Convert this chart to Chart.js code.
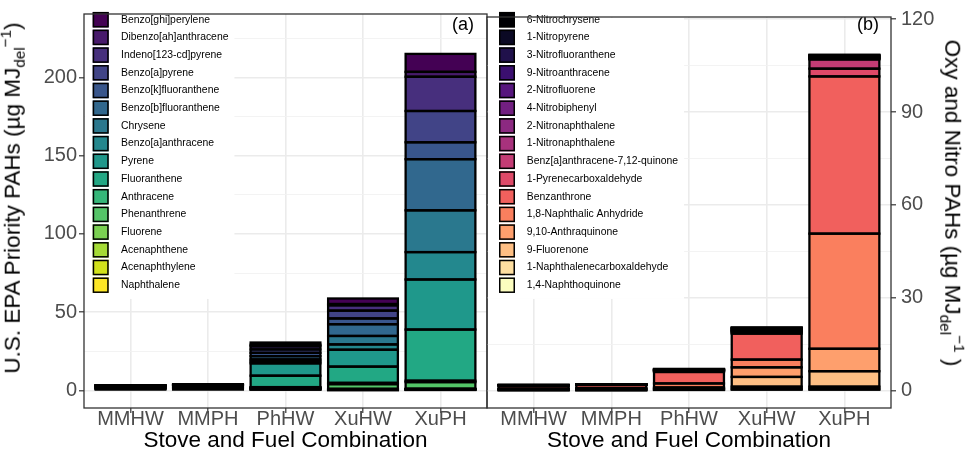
<!DOCTYPE html>
<html>
<head>
<meta charset="utf-8">
<script src="https://cdn.jsdelivr.net/npm/chart.js@4/dist/chart.umd.min.js"></script>
<style>
html,body{margin:0;padding:0;background:#fff;overflow:hidden;}
#wrap{position:relative;width:971px;height:462px;overflow:hidden;background:#fff;font-family:"Liberation Sans",Arial,sans-serif;}
#c1{position:absolute;left:0;top:0;}
#c2{position:absolute;left:485px;top:0;}
.yt{position:absolute;white-space:nowrap;font-size:22.5px;line-height:1;color:#000;}
.sb{font-size:0.68em;position:relative;top:0.3em;}
.sp{font-size:0.68em;position:relative;top:-0.6em;}
</style>
</head>
<body>
<div id="wrap">
  <canvas id="c1" width="489" height="462" style="width:489px;height:462px"></canvas>
  <canvas id="c2" width="486" height="462" style="width:486px;height:462px"></canvas>
  <div class="yt" style="left:13px;top:198px;transform:translate(-50%,-50%) rotate(-90deg);">U.S. EPA Priority PAHs (µg MJ<span class="sb">del</span><span class="sp">−1</span>)</div>
  <div class="yt" style="left:952px;top:203px;transform:translate(-50%,-50%) rotate(90deg);">Oxy and Nitro PAHs (µg MJ<span class="sb">del</span><span class="sp">−1</span> )</div>
</div>
<script>
// ---------------- data ----------------
const categories = ["MMHW", "MMPH", "PhHW", "XuHW", "XuPH"];

// U.S. EPA priority PAHs, listed from the bottom of the stack to the top
const epaSpecies = ["Naphthalene", "Acenaphthylene", "Acenaphthene", "Fluorene", "Phenanthrene", "Anthracene",
  "Fluoranthene", "Pyrene", "Benzo[a]anthracene", "Chrysene", "Benzo[b]fluoranthene", "Benzo[k]fluoranthene",
  "Benzo[a]pyrene", "Indeno[123-cd]pyrene", "Dibenzo[ah]anthracene", "Benzo[ghi]perylene"];
const epaMMHW = [1.0, 0.3, 0.2, 0.3, 0.6, 0.1, 0.2, 0.2, 0.05, 0.05, 0.03, 0.02, 0.03, 0.02, 0.01, 0.02];
const epaMMPH = [1.2, 0.4, 0.2, 0.3, 0.8, 0.1, 0.3, 0.3, 0.05, 0.05, 0.03, 0.02, 0.02, 0.02, 0.01, 0.02];
const epaPhHW = [0.5, 0.4, 0.3, 0.3, 0.4, 0.2, 7.3, 7.9, 1.2, 1.3, 2.1, 2.1, 2.2, 2.0, 1.0, 1.4];
const epaXuHW = [0.2, 0.3, 0.2, 0.3, 3.0, 0.8, 10.4, 10.8, 3.4, 5.4, 7.5, 3.7, 5.0, 3.4, 0.8, 3.55];
const epaXuPH = [0.3, 0.3, 0.2, 0.3, 4.2, 0.9, 32.7, 32.0, 17.5, 26.7, 32.7, 10.8, 20.0, 21.9, 3.1, 11.5];
const epaColors = ["#FDE725", "#D2E21B", "#A5DB36", "#7AD151", "#54C568", "#35B779", "#22A884", "#1F988B",
  "#23888E", "#2A788E", "#31688E", "#39568C", "#414487", "#472F7D", "#481A6C", "#440154"];
const epaTicks = [0, 50, 100, 150, 200];
const epaMinor = [25, 75, 125, 175, 225];

// Oxy and nitro PAHs, listed from the bottom of the stack to the top
const oxySpecies = ["1,4-Naphthoquinone", "1-Naphthalenecarboxaldehyde", "9-Fluorenone", "9,10-Anthraquinone",
  "1,8-Naphthalic Anhydride", "Benzanthrone", "1-Pyrenecarboxaldehyde", "Benz[a]anthracene-7,12-quinone",
  "1-Nitronaphthalene", "2-Nitronaphthalene", "4-Nitrobiphenyl", "2-Nitrofluorene", "9-Nitroanthracene",
  "3-Nitrofluoranthene", "1-Nitropyrene", "6-Nitrochrysene"];
const oxyMMHW = [0.1, 0.1, 0.15, 0.15, 0.15, 0.95, 0.05, 0.05, 0.02, 0.02, 0.01, 0.01, 0.02, 0.01, 0.01, 0.02];
const oxyMMPH = [0.1, 0.1, 0.2, 0.2, 0.2, 1.0, 0.05, 0.05, 0.02, 0.02, 0.01, 0.01, 0.02, 0.01, 0.01, 0.02];
const oxyPhHW = [0.2, 0.2, 0.3, 0.3, 1.3, 3.7, 0.2, 0.15, 0.1, 0.1, 0.05, 0.05, 0.15, 0.05, 0.05, 0.1];
const oxyXuHW = [0.5, 0.75, 3.15, 3.1, 2.5, 8.4, 0.35, 0.3, 0.2, 0.15, 0.15, 0.2, 0.3, 0.1, 0.15, 0.1];
const oxyXuPH = [0.5, 0.75, 5.0, 7.25, 37.2, 50.8, 2.5, 3.0, 0.2, 0.2, 0.2, 0.2, 0.3, 0.1, 0.2, 0.1];
const oxyColors = ["#FCFDBF", "#FDDEA0", "#FEBF84", "#FE9F6D", "#FA7F5E", "#F1605D", "#DE4968", "#C43C75",
  "#A8327D", "#8C2981", "#721F81", "#57157E", "#3B0F70", "#20114B", "#0B0924", "#000004"];
const oxyTicks = [0, 30, 60, 90, 120];
const oxyMinor = [15, 45, 75, 105];

const xTitle = "Stove and Fuel Combination";

// ---------------- helpers ----------------
const FONT = '"Liberation Sans", Arial, sans-serif';
Chart.defaults.font.family = FONT;
Chart.defaults.animation = false;

function buildDatasets(rows, names, colors) {
  return names.map((name, j) => ({
    label: name,
    data: rows.map((r, i) => ({x: i + 1, y: r[j]})),
    backgroundColor: colors[j],
    borderWidth: 0,
    barPercentage: 0.9,
    categoryPercentage: 1.0
  }));
}

// black outline round every stacked segment, taken from the bar elements' own geometry
const barOutline = {
  id: "barOutline",
  afterDatasetsDraw(chart) {
    const ctx = chart.ctx;
    ctx.save();
    ctx.strokeStyle = "#000";
    ctx.lineWidth = 2.3;
    chart.data.datasets.forEach((d, i) => {
      chart.getDatasetMeta(i).data.forEach(el => {
        const p = el.getProps(["x", "y", "base", "width"], true);
        ctx.strokeRect(p.x - p.width / 2, Math.min(p.y, p.base), p.width, Math.abs(p.base - p.y));
      });
    });
    ctx.restore();
  }
};

const panelDeco = {
  id: "panelDeco",
  afterDraw(chart, args, o) {
    const {ctx, chartArea: a} = chart;
    const ds = chart.data.datasets;
    const n = ds.length;
    ctx.save();
    ctx.font = o.fontSize + "px " + FONT;
    let maxW = 0;
    ds.forEach(d => { maxW = Math.max(maxW, ctx.measureText(d.label).width); });
    ctx.fillStyle = "#fff";
    const bgTop = a.top + 1;
    const bgBottom = o.y0 + o.dy * (n - 1) + o.boxH / 2 + 6;
    ctx.fillRect(o.bgX, bgTop, o.textX + maxW + 6 - o.bgX, bgBottom - bgTop);
    for (let i = 0; i < n; i++) {
      const d = ds[n - 1 - i];
      const cy = o.y0 + o.dy * i;
      ctx.fillStyle = d.backgroundColor;
      ctx.fillRect(o.boxX, cy - o.boxH / 2, o.boxW, o.boxH);
      ctx.lineWidth = 1.5;
      ctx.strokeStyle = "#000";
      ctx.strokeRect(o.boxX + 0.75, cy - o.boxH / 2 + 0.75, o.boxW - 1.5, o.boxH - 1.5);
      ctx.fillStyle = "#000";
      ctx.textBaseline = "middle";
      ctx.textAlign = "left";
      ctx.fillText(d.label, o.textX, cy);
    }
    ctx.font = "18px " + FONT;
    ctx.textAlign = "center";
    ctx.fillText(o.tag, o.tagX, o.tagY);
    ctx.strokeStyle = "#333";
    ctx.lineWidth = 1.3;
    ctx.strokeRect(a.left, a.top, a.right - a.left, a.bottom - a.top);
    ctx.restore();
  }
};

function makeChart(canvasId, rows, names, colors, majors, minors, yMin, yMax, side, deco, padding) {
  const grid = majors.concat(minors).sort((p, q) => p - q);
  return new Chart(document.getElementById(canvasId), {
    type: "bar",
    data: {datasets: buildDatasets(rows, names, colors)},
    plugins: [barOutline, panelDeco],
    options: {
      responsive: false,
      animation: false,
      layout: {padding: padding},
      plugins: {legend: {display: false}, tooltip: {enabled: false}, panelDeco: deco},
      scales: {
        x: {
          type: "linear", stacked: true, min: 0.4, max: 5.6, offset: false,
          afterBuildTicks: s => { s.ticks = categories.map((c, i) => ({value: i + 1})); },
          afterFit: s => { s.height = 54; },
          ticks: {autoSkip: false, maxRotation: 0, color: "#4D4D4D", font: {size: 20}, padding: -6,
                  callback: v => categories[v - 1]},
          grid: {color: "#EBEBEB", lineWidth: 1.6, tickColor: "#333", tickLength: 5, tickWidth: 1.2, offset: false},
          border: {display: false},
          title: {display: true, text: xTitle, color: "#000", font: {size: 22.5}, padding: {top: 0, bottom: 8}}
        },
        y: {
          type: "linear", stacked: true, position: side, min: yMin, max: yMax,
          afterBuildTicks: s => { s.ticks = grid.map(v => ({value: v})); },
          afterFit: s => { s.width = side === "left" ? 84 : 80; },
          ticks: {autoSkip: false, color: "#4D4D4D", font: {size: 20}, padding: side === "left" ? 2 : 5,
                  callback: v => majors.includes(v) ? String(v) : ""},
          grid: {
            color: c => (c.tick && majors.includes(c.tick.value)) ? "#EBEBEB" : "#F2F2F2",
            lineWidth: c => (c.tick && majors.includes(c.tick.value)) ? 1.6 : 0.9,
            tickColor: c => (c.tick && majors.includes(c.tick.value)) ? "#333" : "rgba(0,0,0,0)",
            tickLength: 5, tickWidth: 1.2
          },
          border: {display: false}
        }
      }
    }
  });
}

makeChart("c1", [epaMMHW, epaMMPH, epaPhHW, epaXuHW, epaXuPH], epaSpecies, epaColors, epaTicks, epaMinor,
  -11.25, 240.6, "left",
  {fontSize: 10.4, bgX: 85, boxX: 92.7, boxW: 16, boxH: 15.5, textX: 121, y0: 19.7, dy: 17.7, tag: "(a)", tagX: 463, tagY: 25},
  {left: 0, right: 2, top: 5, bottom: 0});

makeChart("c2", [oxyMMHW, oxyMMPH, oxyPhHW, oxyXuHW, oxyXuPH], oxySpecies, oxyColors, oxyTicks, oxyMinor,
  -5.64, 120.7, "right",
  {fontSize: 10.4, bgX: 3, boxX: 14, boxW: 16, boxH: 15.5, textX: 41.7, y0: 19.7, dy: 17.7, tag: "(b)", tagX: 383, tagY: 25},
  {left: 2, right: 0, top: 5, bottom: 0});
</script>
</body>
</html>
